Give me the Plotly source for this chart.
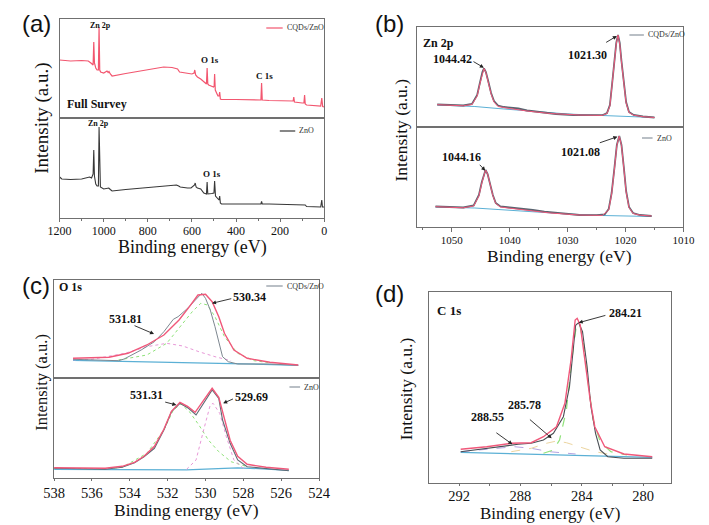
import plotly.graph_objects as go

W, H = 709, 525          # window size
M = 8                    # default body margin of the written page (figure starts at 8,8)
DW, DH = W - M, H - M    # figure size so that it ends exactly at the window edges
SERIF = "Liberation Serif"
SANS = "Liberation Sans"

# ---------------- (a) full survey ----------------
a_cqd_ev = [1200, 1150, 1100, 1070, 1058, 1048, 1045, 1042, 1036, 1030, 1024, 1021, 1018, 1014, 1000, 990, 985, 980, 976, 970, 962,
            900, 840, 780, 728, 690, 665, 656, 630, 600, 590, 587, 583, 575, 560, 550, 540, 534, 531, 528, 524, 510, 502, 499, 497,
            494, 490, 482, 477, 474, 471, 466, 400, 300, 287, 284, 281, 250, 200, 150, 141, 138, 135, 100, 92, 89, 86, 80, 40,
            16, 11, 7, 0]
a_cqd_int = [58, 57, 57.5, 57, 55, 53, 76, 55, 50, 48, 48, 91, 48, 46, 45, 46, 47, 45.5, 46.5, 44, 42,
             44.5, 47, 49.5, 51, 50.5, 49, 46, 45, 44, 45, 48, 43, 41, 39, 37, 35, 34, 50, 34, 33, 32, 31, 32, 44,
             28, 26, 22, 22, 26, 19, 18.5, 18.5, 18, 18, 35, 18, 17.5, 17, 17, 17, 21, 16, 15, 15, 23, 14, 13, 12.5,
             12, 20, 11.5, 11]

a_zno_ev = [1200, 1190, 1150, 1100, 1064, 1055, 1048, 1045, 1042, 1036, 1030, 1024, 1021, 1018, 1015, 1000, 985, 977, 970, 962,
            900, 800, 700, 670, 660, 653, 620, 604, 588, 585, 581, 575, 560, 546, 534, 531, 528, 524, 510, 500, 497, 493,
            488, 477, 474, 471, 466, 400, 300, 287, 284, 281, 250, 200, 150, 100, 86, 80, 40, 16, 11, 8, 0]
a_zno_int = [41, 39, 38.5, 39, 41, 40, 44, 68, 42, 34, 32, 32, 91, 32, 31, 29, 30, 30, 28.5, 27,
             28.5, 30.5, 32.5, 33, 32, 31, 30, 30, 33, 35, 31, 30, 29, 25, 24, 36, 24, 24, 24.5, 25, 37, 22,
             21, 18, 22, 15, 14, 14, 14, 14, 16.5, 14, 14, 13.8, 13.5, 13, 13, 11.5, 11, 11, 18, 11, 11]

a_ticks = [1200, 1000, 800, 600, 400, 200, 0]
a_minor = [1100, 900, 700, 500, 300, 100]

# ---------------- (b) Zn 2p ----------------
b_cqd_raw_ev = [1052.5, 1050, 1048, 1046.5, 1045.6, 1045.1, 1044.7, 1044.42, 1044.1, 1043.7, 1043.2, 1042.7, 1042, 1041, 1040,
                1038.5, 1037, 1035, 1032, 1029, 1026, 1024, 1023.2, 1022.7, 1022.3, 1021.9, 1021.6, 1021.3, 1021.0, 1020.7,
                1020.3, 1019.9, 1019.4, 1018.6, 1017, 1015]
b_cqd_raw_int = [22.5, 21.8, 21.5, 23, 32, 45, 55, 58.5, 55, 46, 34, 26, 21.5, 20, 19.5,
                 18.5, 16.5, 15, 13, 12, 11.5, 11.8, 14, 22, 44, 66, 84, 92, 84, 66,
                 44, 25, 15, 12, 10.5, 9.5]
b_cqd_fit_ev = [1052.5, 1048, 1046.5, 1045.6, 1045.1, 1044.7, 1044.42, 1044.1, 1043.7, 1043.2, 1042.7, 1042, 1040, 1037, 1033,
                1028, 1024, 1023.2, 1022.7, 1022.3, 1021.9, 1021.6, 1021.3, 1021.0, 1020.7, 1020.3, 1019.9, 1019.4, 1018.6,
                1017, 1015]
b_cqd_fit_int = [22.3, 21.2, 22.5, 31, 44, 54.5, 58.5, 54.5, 45, 33, 25, 20.5, 18.5, 16, 13.5,
                 12, 11.6, 13.5, 21, 43, 65, 83, 92, 83, 65, 43, 24, 14.5, 11.8, 10.3, 9.5]
b_cqd_bg_ev = [1052.5, 1046, 1042, 1036, 1030, 1024, 1020, 1015]
b_cqd_bg_int = [22, 20.5, 18.5, 15.5, 13, 11.5, 10.5, 9.5]

b_zno_raw_ev = [1052.8, 1050, 1048, 1046.2, 1045.3, 1044.8, 1044.4, 1044.16, 1043.8, 1043.4, 1042.9, 1042.4, 1041.6, 1040, 1038,
                1036, 1034, 1031, 1028, 1025, 1023.6, 1022.9, 1022.4, 1021.9, 1021.5, 1021.08, 1020.7, 1020.3, 1019.9,
                1019.4, 1018.7, 1017.5, 1015.5]
b_zno_raw_int = [20.5, 19.5, 19.5, 21.5, 32, 45, 54, 57, 53, 44, 32, 24, 20.5, 19.5, 18.5,
                 17, 15.3, 13.5, 12, 11.8, 12.5, 18, 34, 60, 82, 91, 82, 60, 36,
                 20, 14, 12, 11]
b_zno_fit_ev = [1052.8, 1048, 1046.2, 1045.3, 1044.8, 1044.4, 1044.16, 1043.8, 1043.4, 1042.9, 1042.4, 1041.6, 1040, 1037, 1033,
                1028, 1024, 1022.9, 1022.4, 1021.9, 1021.5, 1021.08, 1020.7, 1020.3, 1019.9, 1019.4, 1018.7, 1017.5, 1015.5]
b_zno_fit_int = [20.3, 19.2, 21, 31, 44, 53.5, 57, 53, 43.5, 31.5, 23.5, 20, 18.8, 16.5, 14,
                 12, 11.6, 17, 33, 59, 81.5, 91, 81.5, 59, 35, 19.5, 13.5, 11.8, 11]
b_zno_bg_ev = [1052.8, 1046, 1042, 1036, 1030, 1024, 1020, 1015.5]
b_zno_bg_int = [20, 19, 17.5, 15, 13, 11.5, 11, 10.5]

b_ticks = [1050, 1040, 1030, 1020, 1010]
b_minor = [1055, 1045, 1035, 1025, 1015]

# ---------------- (c) O 1s ----------------
c_cqd_raw_ev = [537, 535.8, 534.6, 534.3, 533.4, 532.7, 532.2, 531.7, 531.45, 531, 530.6, 530.35, 530.2, 530, 529.75, 529.5,
                529.3, 529.1, 528.8, 528.3, 526.6, 525.1]
c_cqd_raw_int = [19, 18.3, 17.6, 19.3, 28.3, 36.6, 46.6, 59, 61.6, 69, 76.6, 82.3, 85, 80, 68.3, 51.6,
                 35, 21.6, 16.6, 14.3, 14.3, 13]
c_cqd_fit_ev = [537, 535.1, 534.1, 533.1, 532.2, 531.4, 530.85, 530.4, 530.0, 529.65, 529.3, 529.0, 528.5, 527.8, 526.6, 525.1]
c_cqd_fit_int = [20, 21, 25, 33.3, 43.3, 58.3, 71.6, 83.3, 84, 76.6, 61.6, 45, 28.3, 20, 16, 13.3]
c_cqd_p1_ev = [534.6, 533.1, 532.05, 531.4, 530.7, 530.25, 529.9, 529.5, 529.0, 528.3, 527.45, 526.6]
c_cqd_p1_int = [18.3, 23.3, 35, 50, 66.6, 75, 73.3, 61.6, 41.6, 25, 17.6, 15.6]
c_cqd_p2_ev = [537, 536, 534.25, 533.1, 532.05, 531.2, 530.35, 529.5, 528.65]
c_cqd_p2_int = [18.5, 19, 25, 31.6, 35, 32.3, 26.6, 21.6, 17.6]
c_cqd_bg_ev = [537, 534, 531, 528, 525.1]
c_cqd_bg_int = [18, 17, 15.8, 14.5, 13]

c_zno_raw_ev = [538, 535.3, 534.4, 533.75, 533.25, 532.7, 532.2, 531.8, 531.35, 530.9, 530.5, 530.1, 529.65, 529.3, 529.1,
                528.7, 528.3, 527.8, 526.8, 525.6]
c_zno_raw_int = [10, 9, 11, 15.6, 21.6, 30, 48.3, 66.6, 75, 70, 63.3, 75, 88.3, 80, 58.3,
                 35, 18.3, 11.6, 10, 7.6]
c_zno_fit_ev = [538, 535.3, 534.4, 533.75, 533.25, 532.7, 532.2, 531.8, 531.35, 530.95, 530.55, 530.1, 529.65, 529.3, 529.05,
                528.7, 528.3, 527.8, 526.8, 525.6]
c_zno_fit_int = [10.5, 10, 12, 16, 22, 32, 49, 67, 76, 72, 66, 78, 90, 81, 62,
                 38, 22, 14, 11, 9]
c_zno_p1_ev = [538, 535.5, 534.4, 533.1, 532.2, 531.7, 531.3, 530.85, 530.35, 529.85, 529.3, 528.65, 527.8]
c_zno_p1_int = [10, 9.5, 11, 25, 48.3, 68.3, 74.3, 66.6, 53.3, 38.3, 26.6, 16.6, 11.6]
c_zno_p2_ev = [531, 530.5, 530.1, 529.75, 529.6, 529.25, 528.9, 528.5, 528]
c_zno_p2_int = [9, 18.3, 48.3, 73.3, 75, 65, 41.6, 18.3, 10]
c_zno_bg_ev = [538, 534, 531, 529, 528.3, 527, 525.6]
c_zno_bg_int = [9, 8.5, 8.5, 10, 10.5, 9.5, 8]

c_ticks = [538, 536, 534, 532, 530, 528, 526, 524]

# ---------------- (d) C 1s ----------------
d_raw_ev = [291.9, 290.2, 289, 288.15, 287.3, 286.5, 285.85, 285.2, 284.8, 284.55, 284.4, 284.2, 283.95, 283.65, 283.4,
            283.1, 282.8, 282.3, 281.25, 279.4]
d_raw_int = [31.6, 35, 38, 39, 40, 43.3, 50, 66.6, 96.6, 133.3, 158, 160.6, 151.6, 116.6, 76.6,
             50, 33.3, 26.6, 25, 25]
d_fit_ev = [291.9, 290.2, 288.6, 287.3, 286.5, 285.65, 285.1, 284.7, 284.43, 284.3, 284.1, 283.8, 283.45, 283.15, 282.5,
            281.25, 279.4]
d_fit_int = [34, 36.6, 40, 40.6, 46.6, 56.6, 80, 123.3, 163.3, 165, 158.3, 123.3, 83.3, 56.6, 36.6, 29.3, 26.6]
d_p1_ev = [286.5, 285.85, 285.45, 285.0, 284.65, 284.35, 284.15, 283.85, 283.55, 283.25, 282.8, 282.1, 281.05]
d_p1_int = [30, 33.3, 43.3, 73.3, 123.3, 158.3, 160, 136.6, 96.6, 63.3, 41.6, 31.6, 28.3]
d_p2_ev = [288.6, 287.3, 286.3, 285.65, 285.0, 284.2, 283.15, 281.9]
d_p2_int = [31.6, 35, 40, 42.3, 40.6, 36.6, 31.6, 28.3]
d_p3_ev = [291.9, 290.2, 289.2, 288.4, 287.3, 286.1, 284.4]
d_p3_int = [31.6, 34, 36, 36.6, 35, 31.6, 29.3]
d_bg_ev = [291.9, 279.4]
d_bg_int = [31, 26]

d_ticks = [292, 288, 284, 280]
d_minor = [290, 286, 282]

# ---------------- colours ----------------
C_CQD = "#f2566f"
C_ZNO = "#383838"
C_RAW = "#5a6470"
C_FIT = "#f0587a"
C_BG = "#5bb0d5"
C_GREEN = "#8fe27a"
C_PINK = "#e898d8"
C_YEL = "#ecd5a0"
C_PUR = "#b4a2e0"
C_LEG = "#8a949e"
FRAME = "#707070"

fig = go.Figure()


def line(x, y, ax, color, width=1.0, dash="solid", name=""):
    fig.add_trace(go.Scatter(
        x=x, y=y, mode="lines", xaxis="x" + ax, yaxis="y" + ax,
        line=dict(color=color, width=width, dash=dash), name=name, showlegend=False, hoverinfo="skip"))


# (a)
line(a_cqd_ev, a_cqd_int, "", C_CQD, 1.2, name="CQDs/ZnO")
line(a_zno_ev, a_zno_int, "2", C_ZNO, 1.1, name="ZnO")
# (b)
line(b_cqd_bg_ev, b_cqd_bg_int, "3", C_BG, 1.0, name="background")
line(b_cqd_raw_ev, b_cqd_raw_int, "3", C_RAW, 1.8, name="CQDs/ZnO")
line(b_cqd_fit_ev, b_cqd_fit_int, "3", C_FIT, 1.0, name="fit")
line(b_zno_bg_ev, b_zno_bg_int, "4", C_BG, 1.0, name="background")
line(b_zno_raw_ev, b_zno_raw_int, "4", C_RAW, 1.8, name="ZnO")
line(b_zno_fit_ev, b_zno_fit_int, "4", C_FIT, 1.0, name="fit")
# (c)
line(c_cqd_bg_ev, c_cqd_bg_int, "5", C_BG, 1.2, name="background")
line(c_cqd_p1_ev, c_cqd_p1_int, "5", C_GREEN, 1.0, dash="dot", name="530.34")
line(c_cqd_p2_ev, c_cqd_p2_int, "5", C_PINK, 1.0, dash="dot", name="531.81")
line(c_cqd_raw_ev, c_cqd_raw_int, "5", "#7d8790", 1.0, name="CQDs/ZnO")
line(c_cqd_fit_ev, c_cqd_fit_int, "5", C_FIT, 1.4, name="fit")
line(c_zno_bg_ev, c_zno_bg_int, "6", C_BG, 1.2, name="background")
line(c_zno_p1_ev, c_zno_p1_int, "6", C_GREEN, 1.0, dash="dot", name="531.31")
line(c_zno_p2_ev, c_zno_p2_int, "6", C_PINK, 1.0, dash="dot", name="529.69")
line(c_zno_raw_ev, c_zno_raw_int, "6", "#5f6a74", 1.1, name="ZnO")
line(c_zno_fit_ev, c_zno_fit_int, "6", C_FIT, 1.4, name="fit")
# (d)
line(d_bg_ev, d_bg_int, "7", C_BG, 1.2, name="background")
line(d_p3_ev, d_p3_int, "7", C_PUR, 1.0, dash="dash", name="288.55")
line(d_p2_ev, d_p2_int, "7", C_YEL, 1.0, dash="dash", name="285.78")
line(d_p1_ev, d_p1_int, "7", C_GREEN, 1.2, dash="dash", name="284.21")
line(d_raw_ev, d_raw_int, "7", "#4a4f55", 1.1, name="C 1s")
line(d_fit_ev, d_fit_int, "7", C_FIT, 1.4, name="fit")


def px2dx(px):
    return (px - M) / DW


def px2dy(py):
    return 1 - (py - M) / DH


axis_common = dict(showline=True, linecolor=FRAME, linewidth=1, mirror=True, showgrid=False,
                   zeroline=False, fixedrange=True)


def xax(dom, rng, anchor, ticks=None, minor=None, font=12, ticklen=4, show=True, standoff=0):
    d = dict(axis_common, domain=[px2dx(dom[0]), px2dx(dom[1])], range=rng, anchor=anchor)
    if show:
        d.update(tickmode="array", tickvals=ticks, ticktext=[str(t) for t in ticks],
                 ticks="outside", ticklen=ticklen, tickwidth=1, tickcolor=FRAME, ticklabelstandoff=standoff,
                 tickfont=dict(family=SERIF, size=font, color="#111"))
        if minor:
            d["minor"] = dict(tickvals=minor, ticks="outside", ticklen=max(2, ticklen - 2), tickcolor=FRAME)
    else:
        d.update(showticklabels=False, ticks="")
    return d


def yax(dom, rng, anchor):
    return dict(axis_common, domain=[px2dy(dom[1]), px2dy(dom[0])], range=rng, anchor=anchor,
                showticklabels=False, ticks="")


fig.update_layout(
    width=DW, height=DH, margin=dict(l=0, r=0, t=0, b=0),
    paper_bgcolor="white", plot_bgcolor="white", showlegend=False,
    xaxis=xax((49, 323), [1200, 0], "y", show=False),
    yaxis=yax((19, 118), [0, 99], "x"),
    xaxis2=xax((49, 323), [1200, 0], "y2", a_ticks, a_minor, font=12, ticklen=3, standoff=-1),
    yaxis2=yax((118, 218), [0, 100], "x2"),
    xaxis3=xax((419, 695), [1056, 1010], "y3", show=False),
    yaxis3=yax((27, 127), [0, 100], "x3"),
    xaxis4=xax((419, 695), [1056, 1010], "y4", b_ticks, b_minor, font=11, ticklen=4, standoff=-1),
    yaxis4=yax((127, 227), [0, 100], "x4"),
    xaxis5=xax((43.3, 317.7), [538, 524], "y5", show=False),
    yaxis5=yax((279.5, 378.3), [0, 98.8], "x5"),
    xaxis6=xax((43.3, 317.7), [538, 524], "y6", c_ticks, None, font=14.5, ticklen=2, standoff=-1),
    yaxis6=yax((378.3, 478.3), [0, 100], "x6"),
    xaxis7=xax((431, 681.7), [294, 278.2], "y7", d_ticks, d_minor, font=14.5, ticklen=2, standoff=-3),
    yaxis7=yax((292.3, 483.3), [0, 191], "x7"),
)

ann = []
shapes = []


def text(x, y, s, ax, size=12, bold=True, xanchor="center"):
    ann.append(dict(x=x, y=y, xref="x" + ax, yref="y" + ax, text=("<b>%s</b>" % s) if bold else s,
                    showarrow=False, xanchor=xanchor, yanchor="middle",
                    font=dict(family=SERIF, size=size, color="#111")))


def arrow(tail, tip, ax):
    ann.append(dict(x=tip[0], y=tip[1], ax=tail[0], ay=tail[1], xref="x" + ax, yref="y" + ax,
                    axref="x" + ax, ayref="y" + ax, text="", showarrow=True, arrowhead=2,
                    arrowsize=0.9, arrowwidth=0.9, arrowcolor="#222", standoff=0, startstandoff=0))


def paper_text(xp, yp, s, size, family=SERIF, angle=0, xanchor="center", yanchor="middle", color="#111"):
    ann.append(dict(x=px2dx(xp), y=px2dy(yp), xref="paper", yref="paper", text=s, showarrow=False,
                    xanchor=xanchor, yanchor=yanchor, textangle=angle,
                    font=dict(family=family, size=size, color=color)))


def legend_item(x0, x1, y, s, color):
    shapes.append(dict(type="line", xref="paper", yref="paper", x0=px2dx(x0), x1=px2dx(x1),
                       y0=px2dy(y), y1=px2dy(y), line=dict(color=color, width=1.2)))
    paper_text(x1 + 2, y, s, 8, xanchor="left", color="#333")


# legends
legend_item(263, 280, 28, "CQDs/ZnO", C_CQD)
legend_item(277, 293, 131, "ZnO", C_ZNO)
legend_item(639, 654, 35, "CQDs/ZnO", C_LEG)
legend_item(652, 663, 138, "ZnO", C_LEG)
legend_item(263, 280, 286, "CQDs/ZnO", C_LEG)
legend_item(287, 298, 387, "ZnO", C_LEG)

# (a) labels
text(1016, 93, "Zn 2p", "", size=8)
text(517, 58, "O 1s", "", size=9)
text(271, 42, "C 1s", "", size=9)
text(1174, 14, "Full Survey", "", size=12, xanchor="left")
text(1025, 94, "Zn 2p", "2", size=8)
text(508, 44, "O 1s", "2", size=9)

# (b) labels
text(1055.3, 84, "Zn 2p", "3", size=12, xanchor="left")
text(1049.9, 68, "1044.42", "3", size=12)
arrow((1046.5, 66.3), (1044.45, 59.3), "3")
text(1026.5, 72, "1021.30", "3", size=12)
arrow((1023.6, 83.7), (1021.5, 91), "3")
text(1048.3, 70, "1044.16", "4", size=12)
arrow((1045.4, 63.7), (1044.2, 56.3), "4")
text(1027.8, 75, "1021.08", "4", size=12)
arrow((1024.7, 83.7), (1021.4, 90.3), "4")

# (c) labels
text(537.86, 91.3, "O 1s", "5", size=12, xanchor="left")
text(534.21, 59.3, "531.81", "5", size=12)
arrow((533.83, 53.3), (532.72, 44.3), "5")
text(527.66, 81.3, "530.34", "5", size=12)
arrow((528.56, 80), (529.66, 75), "5")
text(533.12, 83.3, "531.31", "6", size=12)
arrow((532.21, 76.6), (531.54, 73.3), "6")
text(527.58, 81.3, "529.69", "6", size=12)
arrow((528.47, 80), (529.07, 75), "6")

# (d) labels
text(293.56, 173.3, "C 1s", "7", size=13, xanchor="left")
text(281.15, 170.3, "284.21", "7", size=12)
arrow((282.36, 168.3), (284.2, 160.6), "7")
text(287.73, 78.3, "285.78", "7", size=12)
arrow((287.48, 65), (285.96, 45), "7")
text(290.18, 66.3, "288.55", "7", size=12)
arrow((289.67, 51.6), (288.53, 39), "7")

# axis titles
paper_text(30, 118.5, "Intensity (a.u.)", 19, angle=-90)
paper_text(403, 130, "Intensity (a.u.)", 17.5, angle=-90)
paper_text(30, 382.5, "Intensity (a.u.)", 16.5, angle=-90)
paper_text(408, 389, "Intensity (a.u.)", 17.5, angle=-90)
paper_text(187, 247, "Binding energy (eV)", 18)
paper_text(567, 256, "Binding energy (eV)", 17.5)
paper_text(180, 510, "Binding energy (eV)", 17.5)
paper_text(557, 513.5, "Binding energy (eV)", 17)

# panel letters
paper_text(8.5, 8.5, "(a)", 24, family=SANS, xanchor="left", yanchor="top")
paper_text(391, 8.5, "(b)", 24, family=SANS, yanchor="top")
paper_text(8.5, 285, "(c)", 24, family=SANS, xanchor="left")
paper_text(391, 293, "(d)", 24, family=SANS)

fig.update_layout(annotations=ann, shapes=shapes)
fig.write_html("out.html")
